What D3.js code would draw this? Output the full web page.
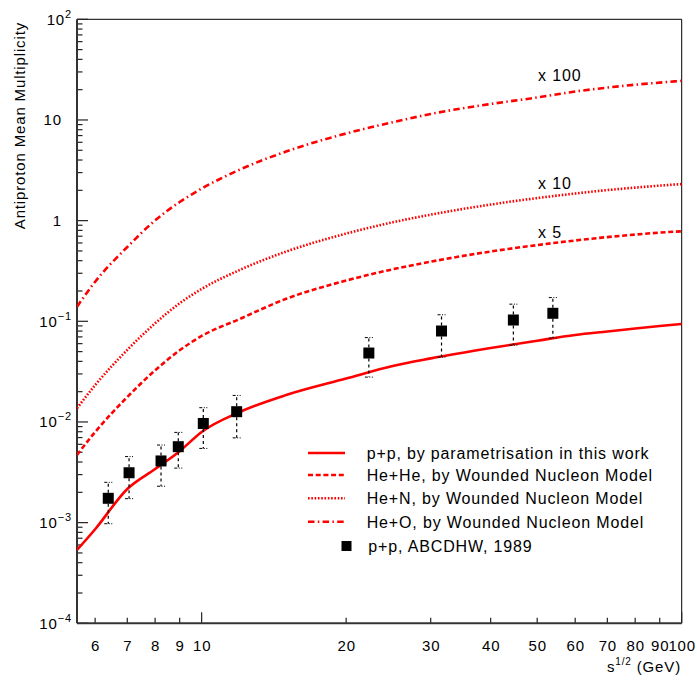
<!DOCTYPE html>
<html><head><meta charset="utf-8">
<script src="https://cdn.jsdelivr.net/npm/d3@7"></script>
<style>
html,body{margin:0;padding:0;background:#fff;}
svg{display:block;}
text{font-family:"Liberation Sans",Arial,Helvetica,sans-serif;fill:#000;}
</style></head>
<body>
<svg id="chart" width="697" height="687"></svg>
<script>
// ---- data ----
const curveX = [5.5,6,7,8,9,10,12,15,20,25,30,40,50,60,70,80,90,100];
const ppY   = [5.35e-4,8.6e-4,2.16e-3,3.41e-3,5.13e-3,7.95e-3,0.01256,0.01853,0.0270,0.0360,0.0428,0.0543,0.0642,0.0731,0.0792,0.0848,0.0898,0.0940];
const heheY = [0.00470,0.00795,0.0177,0.0326,0.0515,0.0715,0.1054,0.1674,0.2538,0.3285,0.3911,0.4937,0.5715,0.6348,0.6864,0.7266,0.7606,0.7838];
const henY  = [0.01368,0.02324,0.0520,0.0955,0.1510,0.2094,0.3233,0.4927,0.7436,0.9627,1.146,1.446,1.675,1.860,2.011,2.129,2.228,2.307];
const heoY  = [0.1396,0.2474,0.547,1.006,1.531,2.08,3.21,4.86,7.34,9.48,11.47,14.41,16.72,19.18,20.97,22.40,23.50,24.49];

const dataX   = [6.39,7.06,8.23,8.94,10.08,11.83,22.3,31.6,44.6,53.9];
const dataY   = [1.745e-3,3.13e-3,4.10e-3,5.68e-3,9.66e-3,0.01265,0.0484,0.0801,0.1030,0.1201];
const dataErr = [0.00077,0.0014,0.0018,0.0022,0.0042,0.0057,0.0205,0.036,0.045,0.052];

const xTickValues = [6,7,8,9,10,20,30,40,50,60,70,80,90,100];
const xTickLabels = ["6","7","8","9","10","20","30","40","50","60","70","80","90","100"];
const yMajorValues = [1e-4,1e-3,1e-2,1e-1,1,10,100];
const yTickBase = ["10","10","10","10","1","10","10"];
const yTickExp  = ["\u22124","\u22123","\u22122","\u22121","","","2"];

const legendLabels = ["p+p, by parametrisation in this work","He+He, by Wounded Nucleon Model","He+N, by Wounded Nucleon Model","He+O, by Wounded Nucleon Model","p+p, ABCDHW, 1989"];
const scaleLabels = ["x 100","x 10","x 5"];

// ---- layout ----
const svg = d3.select("#chart");
const L = 77, R = 681.7, T = 19.3, B = 623.3;
const x = d3.scaleLog().domain([5.5,100]).range([L,R]);
const y = d3.scaleLog().domain([1e-4,100]).range([B,T]);
const FS = 15, LS = "0.85px", FL = 16;

// frame
svg.append("line").attr("x1",L).attr("x2",R).attr("y1",T).attr("y2",T).attr("stroke","#000").attr("stroke-width",1);
svg.append("line").attr("x1",R).attr("x2",R).attr("y1",T).attr("y2",B).attr("stroke","#000").attr("stroke-width",1);

// y ticks
const yMinor = [];
for (let e=-4;e<2;e++) for (let k=2;k<=9;k++) yMinor.push(k*Math.pow(10,e));
svg.append("g").selectAll("line").data(yMinor).join("line")
  .attr("x1",L).attr("x2",L+5.5).attr("y1",d=>y(d)).attr("y2",d=>y(d)).attr("stroke","#222").attr("stroke-width",1.2);
svg.append("g").selectAll("line").data(yMajorValues).join("line")
  .attr("x1",L).attr("x2",L+11).attr("y1",d=>y(d)).attr("y2",d=>y(d)).attr("stroke","#222").attr("stroke-width",1.2);

// y labels
const yl = svg.append("g").selectAll("text").data(yMajorValues).join("text")
  .attr("text-anchor","end").attr("font-size",FS).attr("letter-spacing",LS)
  .attr("x",(d,i)=> yTickExp[i] ? 72 : 62)
  .attr("y",d=>y(d)+5.5);
yl.append("tspan").text((d,i)=>yTickBase[i]);
yl.filter((d,i)=>yTickExp[i]!=="").append("tspan").attr("font-size",11).attr("dy",-7).text(d=>yTickExp[yMajorValues.indexOf(d)]);

// x ticks
svg.append("g").selectAll("line").data(xTickValues).join("line")
  .attr("x1",d=>x(d)).attr("x2",d=>x(d)).attr("y1",B).attr("y2",d=>(d===10||d===100)?B-11:B-5.5)
  .attr("stroke","#222").attr("stroke-width",1.2);
svg.append("g").selectAll("text").data(xTickValues).join("text")
  .attr("text-anchor","middle").attr("font-size",FS).attr("letter-spacing",LS)
  .attr("x",d=>x(d)+0.5).attr("y",650.5).text((d,i)=>xTickLabels[i]);

// axes lines
svg.append("line").attr("x1",L).attr("x2",L).attr("y1",T).attr("y2",B).attr("stroke","#333").attr("stroke-width",2);
svg.append("line").attr("x1",L).attr("x2",R).attr("y1",B).attr("y2",B).attr("stroke","#333").attr("stroke-width",2);

// titles
const xt = svg.append("text").attr("text-anchor","end").attr("font-size",FS).attr("letter-spacing",LS).attr("x",681).attr("y",671.5);
xt.append("tspan").text("s");
xt.append("tspan").attr("font-size",10).attr("dy",-7).text("1/2");
xt.append("tspan").attr("dy",7).text(" (GeV)");
svg.append("text").attr("text-anchor","end").attr("font-size",FS).attr("letter-spacing",LS)
  .attr("transform","translate(25,22) rotate(-90)").text("Antiproton Mean Multiplicity");

// curves
svg.append("clipPath").attr("id","clip").append("rect").attr("x",L).attr("y",T).attr("width",R-L).attr("height",B-T);
const line = d3.line().x(d=>x(d[0])).y(d=>y(d[1])).curve(d3.curveMonotoneX);
const styles = [
  {ys:ppY,   dash:null},
  {ys:heheY, dash:"5,2.7"},
  {ys:henY,  dash:"1.6,1.7"},
  {ys:heoY,  dash:"6.5,3.3,1.5,3.3"}
];
const cg = svg.append("g").attr("clip-path","url(#clip)");
styles.forEach(s=>{
  cg.append("path").attr("d",line(curveX.map((v,i)=>[v,s.ys[i]])))
    .attr("fill","none").attr("stroke","#ff0000").attr("stroke-width",2.6)
    .attr("stroke-dasharray",s.dash);
});

// data points with error bars
const pts = dataX.map((v,i)=>({x:v,y:dataY[i],e:dataErr[i]}));
const eg = svg.append("g");
pts.forEach(p=>{
  const cx = x(p.x), cy = y(p.y), yu = y(p.y+p.e), yd = y(p.y-p.e);
  eg.append("line").attr("x1",cx).attr("x2",cx).attr("y1",cy-5.5).attr("y2",yu).attr("stroke","#000").attr("stroke-width",1.2).attr("stroke-dasharray","3,3");
  eg.append("line").attr("x1",cx).attr("x2",cx).attr("y1",cy+5.5).attr("y2",yd).attr("stroke","#000").attr("stroke-width",1.2).attr("stroke-dasharray","3,3");
  [yu,yd].forEach(yy=>{
    eg.append("line").attr("x1",cx-4).attr("x2",cx+4).attr("y1",yy).attr("y2",yy).attr("stroke","#000").attr("stroke-width",1).attr("stroke-dasharray","3,1.5,1,1.5");
  });
});
eg.selectAll("rect").data(pts).join("rect")
  .attr("x",d=>x(d.x)-5.5).attr("y",d=>y(d.y)-5.5).attr("width",11).attr("height",11).attr("fill","#000");

// scale labels
const scaleY = [75.5,183,232];
svg.append("g").selectAll("text").data(scaleLabels).join("text")
  .attr("font-size",FL).attr("letter-spacing",LS).attr("x",538).attr("y",(d,i)=>scaleY[i]+5.8).text(d=>d);

// legend
const legRows = [453,475,498.3,521.7,546];
const legDash = [null,"5,2.7","1.6,1.7","6.5,3.3,1.5,3.3"];
const lg = svg.append("g");
for (let i=0;i<4;i++){
  lg.append("line").attr("x1",308).attr("x2",345).attr("y1",legRows[i]).attr("y2",legRows[i])
    .attr("stroke","#ff0000").attr("stroke-width",2.6).attr("stroke-dasharray",legDash[i]);
}
lg.append("rect").attr("x",341.5).attr("y",legRows[4]-5).attr("width",10).attr("height",10).attr("fill","#000");
lg.selectAll("text").data(legendLabels).join("text")
  .attr("font-size",FL).attr("letter-spacing",LS)
  .attr("x",(d,i)=> i===4 ? 368.3 : 366.7).attr("y",(d,i)=>legRows[i]+5.8).text(d=>d);
</script>
</body></html>
